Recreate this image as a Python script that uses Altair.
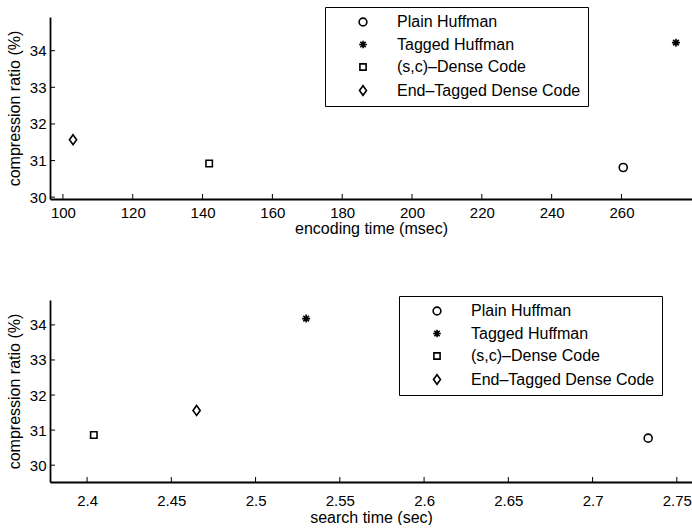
import altair as alt
import pandas as pd

methods = ["Plain Huffman", "Tagged Huffman", "(s,c)–Dense Code", "End–Tagged Dense Code"]

encoding_time = [260.5, 275.6, 141.9, 102.9]
encoding_ratio = [30.81, 34.22, 30.92, 31.57]

search_time = [2.733, 2.530, 2.404, 2.465]
search_ratio = [30.77, 34.18, 30.86, 31.56]

top_xticks = [100, 120, 140, 160, 180, 200, 220, 240, 260]
bottom_xticks = [2.4, 2.45, 2.5, 2.55, 2.6, 2.65, 2.7, 2.75]
yticks = [30, 31, 32, 33, 34]

ASTERISK = "M0,-1L0,1M-1,0L1,0M-0.7,-0.7L0.7,0.7M-0.7,0.7L0.7,-0.7"
SQUARE = "M-0.8,-0.8L0.8,-0.8L0.8,0.8L-0.8,0.8Z"
DIAMOND = "M0,-1.25L0.9,0L0,1.25L-0.9,0Z"
shape_scale = alt.Scale(domain=methods, range=["circle", ASTERISK, SQUARE, DIAMOND])

FONT = "Liberation Sans"
W = 642
H = 182
YTITLE = "compression ratio (%)"


def panel(xs, ys, xtitle, xdomain, ydomain, xticks, fmt, legend_x, legend_y, label_pad, title_pad):
    df = pd.DataFrame({"x": xs, "y": ys, "method": methods})
    xscale = alt.Scale(domain=xdomain, nice=False, zero=False)
    yscale = alt.Scale(domain=ydomain, nice=False, zero=False)
    xaxis = alt.Axis(values=xticks, title=xtitle, format=fmt,
                     labelPadding=label_pad, titlePadding=title_pad)
    yaxis = alt.Axis(values=yticks, title=YTITLE, labelPadding=4, titlePadding=7)
    points = alt.Chart(df).mark_point(
        filled=False, color="black", strokeWidth=1.6, size=64, opacity=1
    ).encode(
        x=alt.X("x:Q", scale=xscale, axis=xaxis),
        y=alt.Y("y:Q", scale=yscale, axis=yaxis),
        shape=alt.Shape("method:N", scale=shape_scale, sort=methods,
                        legend=alt.Legend(title=None, orient="none",
                                          legendX=legend_x, legendY=legend_y)),
    )
    xt = alt.Chart(pd.DataFrame({"x": xticks})).mark_rule(color="black", strokeWidth=1).encode(
        x=alt.X("x:Q", scale=xscale, axis=xaxis),
        y=alt.value(H), y2=alt.value(H - 5),
    )
    yt = alt.Chart(pd.DataFrame({"y": yticks})).mark_rule(color="black", strokeWidth=1).encode(
        y=alt.Y("y:Q", scale=yscale, axis=yaxis),
        x=alt.value(0), x2=alt.value(5),
    )
    return alt.layer(points, xt, yt).properties(width=W, height=H)


top = panel(encoding_time, encoding_ratio, "encoding time (msec)", [96.3, 280.2],
            [29.95, 34.92], top_xticks, "d", 275, -10, 6, 0)
bottom = panel(search_time, search_ratio, "search time (sec)", [2.378, 2.759],
               [29.52, 34.71], bottom_xticks, "", 349, -4, 11, 1)

chart = alt.vconcat(top, bottom, spacing=59).resolve_scale(
    shape="independent"
).resolve_legend(
    shape="independent"
).properties(
    padding={"left": 6, "top": 6, "right": 0, "bottom": 0},
    background="white",
).configure_view(stroke=None).configure_axis(
    grid=False, ticks=False, domainColor="black", domainWidth=1.8,
    labelFont=FONT, labelFontSize=15, labelColor="black",
    titleFont=FONT, titleFontSize=16, titleFontWeight="normal", titleColor="black",
).configure_legend(
    strokeColor="black", fillColor="white", padding=7, symbolOffset=23, labelOffset=26,
    rowPadding=6.5, labelFont=FONT, labelFontSize=16, labelColor="black", labelLimit=0,
    symbolStrokeColor="black", symbolStrokeWidth=1.6, symbolSize=60, symbolFillColor="transparent",
)

chart.save("out.html", embed_options={"renderer": "svg", "actions": False})
